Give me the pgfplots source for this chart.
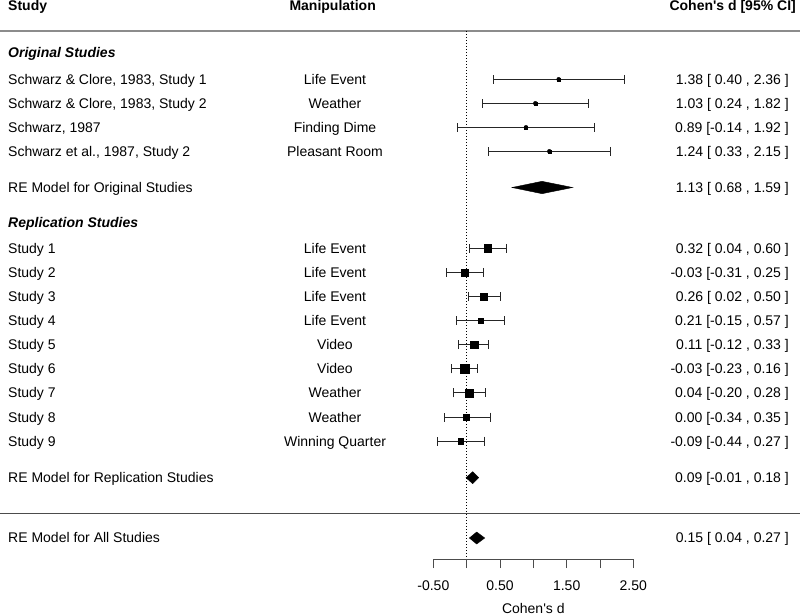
\documentclass[border=0pt]{standalone}
\usepackage{fontspec}
\setmainfont{Liberation Sans}
\usepackage{pgfplots}
\usepackage{pgfplotstable}
\pgfplotsset{compat=1.18}
\newcommand{\fs}{\fontsize{14bp}{17bp}\selectfont}
\newcommand{\rowtext}[4]{%
  \node[anchor=base west, font=\fs, inner sep=0] at (axis cs:-6.88,-#1) {#2};
  \node[anchor=base, font=\fs, inner sep=0] at (axis cs:-1.975,-#1) {#3};
  \node[anchor=base east, font=\fs, inner sep=0] at (axis cs:4.835,-#1) {#4};}

% y = minus pixel row of the study
\pgfplotstableread{
y d lo hi s
-79.3 1.38 0.40 2.36 1.6
-103.3 1.03 0.24 1.82 1.6
-127.3 0.89 -0.14 1.92 1.6
-151.3 1.24 0.33 2.15 1.6
-248.3 0.32 0.04 0.60 3.65
-272.4 -0.03 -0.31 0.25 3.35
-296.5 0.26 0.02 0.50 3.65
-320.6 0.21 -0.15 0.57 2.65
-344.7 0.11 -0.12 0.33 4.0
-368.8 -0.03 -0.23 0.16 4.5
-392.9 0.04 -0.20 0.28 4.0
-417.0 0.00 -0.34 0.35 3.0
-441.1 -0.09 -0.44 0.27 2.65
}\studies

\begin{document}
\begin{tikzpicture}
\begin{axis}[at={(0,0)}, anchor=north west, scale only axis,
  width=800bp, height=615bp, xmin=-7, xmax=5, ymin=-615, ymax=0,
  hide axis, clip=false]
% separators
\addplot[black!45, line width=1.6bp] coordinates {(-7,-31) (5,-31)};
\addplot[black!70, line width=1bp] coordinates {(-7,-513) (5,-513)};
% zero line
\addplot[black, line width=0.7bp, dash pattern=on 1.5bp off 1.5bp] coordinates {(0,-31) (0,-559)};
% confidence intervals
\addplot[only marks, mark=none, error bars/.cd, x dir=both, x explicit,
  error mark=|,
  error bar style={line width=0.9bp, black!85},
  error mark options={mark size=4.5bp, line width=0.9bp, black!85}]
  table[x=d, y=y, x error plus expr=\thisrow{hi}-\thisrow{d}, x error minus expr=\thisrow{d}-\thisrow{lo}] {\studies};
% point estimates
\addplot[scatter, only marks, mark=square*,
  visualization depends on={\thisrow{s}\as\msize},
  scatter/use mapped color={draw=black, fill=black},
  scatter/@pre marker code/.append style={/tikz/mark size=\msize}]
  table[x=d, y=y] {\studies};
% summary diamonds
\addplot[fill=black, draw=black] coordinates {(0.68,-187.5) (1.13,-181.3) (1.59,-187.5) (1.13,-193.7)} -- cycle;
\addplot[fill=black, draw=black] coordinates {(-0.01,-477.7) (0.09,-471.7) (0.18,-477.7) (0.09,-483.7)} -- cycle;
\addplot[fill=black, draw=black] coordinates {(0.04,-538) (0.15,-532) (0.27,-538) (0.15,-544)} -- cycle;

% headers
\node[anchor=base west, font=\fs\bfseries, inner sep=0] at (axis cs:-6.88,-10.5) {Study};
\node[anchor=base, font=\fs\bfseries, inner sep=0] at (axis cs:-2.01,-10.5) {Manipulation};
\node[anchor=base east, font=\fs\bfseries, inner sep=0] at (axis cs:4.94,-10.5) {Cohen\textquotesingle s d [95\% CI]};
\node[anchor=base west, font=\fs\bfseries\itshape, inner sep=0] at (axis cs:-6.88,-58) {Original Studies};
\node[anchor=base west, font=\fs\bfseries\itshape, inner sep=0] at (axis cs:-6.88,-227.5) {Replication Studies};

% study rows
\rowtext{84.3}{Schwarz \& Clore, 1983, Study 1}{Life Event}{1.38 [ 0.40 , 2.36 ]}
\rowtext{108.3}{Schwarz \& Clore, 1983, Study 2}{Weather}{1.03 [ 0.24 , 1.82 ]}
\rowtext{132.3}{Schwarz, 1987}{Finding Dime}{0.89 [-0.14 , 1.92 ]}
\rowtext{156.3}{Schwarz et al., 1987, Study 2}{Pleasant Room}{1.24 [ 0.33 , 2.15 ]}
\rowtext{253.3}{Study 1}{Life Event}{0.32 [ 0.04 , 0.60 ]}
\rowtext{277.4}{Study 2}{Life Event}{-0.03 [-0.31 , 0.25 ]}
\rowtext{301.5}{Study 3}{Life Event}{0.26 [ 0.02 , 0.50 ]}
\rowtext{325.6}{Study 4}{Life Event}{0.21 [-0.15 , 0.57 ]}
\rowtext{349.7}{Study 5}{Video}{0.11 [-0.12 , 0.33 ]}
\rowtext{373.8}{Study 6}{Video}{-0.03 [-0.23 , 0.16 ]}
\rowtext{397.9}{Study 7}{Weather}{0.04 [-0.20 , 0.28 ]}
\rowtext{422.0}{Study 8}{Weather}{0.00 [-0.34 , 0.35 ]}
\rowtext{446.1}{Study 9}{Winning Quarter}{-0.09 [-0.44 , 0.27 ]}
\rowtext{192.3}{RE Model for Original Studies}{}{1.13 [ 0.68 , 1.59 ]}
\rowtext{482.3}{RE Model for Replication Studies}{}{0.09 [-0.01 , 0.18 ]}
\rowtext{542.5}{RE Model for All Studies}{}{0.15 [ 0.04 , 0.27 ]}
\end{axis}

\begin{axis}[at={(433.33bp,-559bp)}, anchor=south west, scale only axis,
  width=200bp, height=20bp, xmin=-0.5, xmax=2.5, ymin=0, ymax=1,
  axis x line*=bottom, axis y line=none,
  xtick={-0.5,0,0.5,1,1.5,2,2.5}, xticklabels={-0.50,,0.50,,1.50,,2.50},
  tick align=outside, major tick length=9bp,
  x axis line style={black!70, line width=1bp},
  every tick/.style={black!70, line width=1bp},
  xticklabel style={font=\fs, anchor=base, yshift=-22bp, inner sep=0},
  xlabel={Cohen\textquotesingle s d},
  xlabel style={font=\fs, anchor=base, at={(axis description cs:0.5,0)}, yshift=-54bp, inner sep=0}]
\addplot[draw=none] coordinates {(0,0.5)};
\end{axis}
\pgfresetboundingbox
\path[use as bounding box] (0,0) rectangle (800bp,-615bp);
\end{tikzpicture}
\end{document}
